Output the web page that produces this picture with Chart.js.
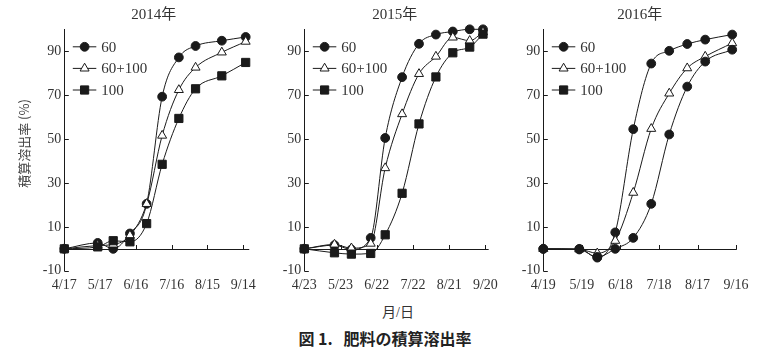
<!DOCTYPE html>
<html><head><meta charset="utf-8">
<script src="https://cdn.jsdelivr.net/npm/chart.js@4.4.1/dist/chart.umd.min.js"></script>
<style>
html,body{margin:0;padding:0;background:#fff;width:763px;height:355px;overflow:hidden;}
.wrap{position:absolute;top:0;height:300px;}
#xlab{position:absolute;left:348px;width:100px;top:301px;text-align:center;font:14px 'Liberation Serif','Noto Sans CJK JP',serif;color:#333;}
#cap{position:absolute;left:235px;width:300px;top:326px;text-align:center;font:bold 16px 'Noto Sans CJK JP',sans-serif;color:#222;white-space:pre;}
</style></head>
<body>
<div class="wrap" style="left:0;width:262px"><canvas id="c1" width="262" height="300"></canvas></div>
<div class="wrap" style="left:262px;width:242px"><canvas id="c2" width="242" height="300"></canvas></div>
<div class="wrap" style="left:504px;width:259px"><canvas id="c3" width="259" height="300"></canvas></div>
<div id="xlab">月/日</div>
<div id="cap">図 1.   肥料の積算溶出率</div>
<script>
// ---- data ----
const seriesLabels = ['60', '60+100', '100'];
const yTickValues = [-10, 10, 30, 50, 70, 90];
const xTickDays = [0, 30, 60, 90, 120, 150];
const yAxisTitle = '積算溶出率 (%)';

const title2014 = '2014年';
const xLabels2014 = ['4/17', '5/17', '6/16', '7/16', '8/15', '9/14'];
const days2014 = [0, 28, 41, 55, 69, 82, 96, 110, 132, 152];
const v60_2014 = [0, 2.7, 0, 7.0, 20.5, 69.3, 87.2, 92.4, 94.8, 96.5];
const v60100_2014 = [0, 1.5, 2.0, 6.1, 20.5, 51.6, 72.4, 82.6, 89.5, 94.4];
const v100_2014 = [0, 0.9, 3.7, 3.2, 11.5, 38.5, 59.4, 72.9, 78.8, 84.9];

const title2015 = '2015年';
const xLabels2015 = ['4/23', '5/23', '6/22', '7/22', '8/21', '9/20'];
const days2015 = [0, 25, 39, 55, 67, 81, 95, 109, 123, 137, 148];
const v60_2015 = [0, 1.7, -0.3, 5.0, 50.5, 78.2, 93.4, 97.6, 99.0, 100, 100];
const v60100_2015 = [0, 2.0, 0.3, 2.4, 36.8, 61.4, 79.7, 87.6, 96.3, 94.8, 98.7];
const v100_2015 = [0, -1.8, -2.4, -2.1, 6.4, 25.3, 56.9, 78.3, 89.3, 91.9, 97.8];

const title2016 = '2016年';
const xLabels2016 = ['4/19', '5/19', '6/18', '7/18', '8/17', '9/16'];
const days2016 = [0, 28, 42, 56, 70, 84, 98, 112, 126, 147];
const v60_2016 = [0, 0, -4.0, 7.5, 54.5, 84.4, 90.2, 93.3, 95.3, 97.6];
const v60100_2016 = [0, -0.2, -2.0, 3.7, 25.6, 54.7, 70.8, 82.3, 87.6, 93.7];
const v100_2016 = [0, -0.3, -3.7, 0, 5.0, 20.5, 52.1, 73.9, 85.3, 90.7];

// ---- styling ----
const INK = '#1a1a1a';
const SERIF = "'Liberation Serif','Noto Sans CJK JP',serif";
const STYLES = [
  {pointStyle: 'circle', radius: 4.4, fill: INK},
  {pointStyle: 'triangle', radius: 5.2, fill: '#ffffff'},
  {pointStyle: 'rect', radius: 5.8, fill: INK}
];

function pts(days, vals) { return days.map((d, i) => ({x: d, y: vals[i]})); }

function makeDataset(i, days, vals, overrideStyle) {
  const st = STYLES[i];
  const ps = overrideStyle !== undefined ? STYLES[overrideStyle] : st;
  return {
    label: seriesLabels[i],
    data: pts(days, vals),
    borderColor: INK,
    borderWidth: 1,
    backgroundColor: ps.fill,
    pointStyle: ps.pointStyle,
    pointRadius: ps.radius,
    pointHoverRadius: ps.radius,
    pointBorderColor: INK,
    pointBorderWidth: 1,
    pointBackgroundColor: ps.fill,
    cubicInterpolationMode: 'monotone',
    clip: false,
    legendStyle: st,
    order: 3 - i
  };
}

const decoPlugin = {
  id: 'deco',
  beforeDatasetsDraw(chart) {
    const {ctx, scales: {x, y}, chartArea} = chart;
    const y0 = y.getPixelForValue(0);
    ctx.save();
    ctx.strokeStyle = INK;
    ctx.lineWidth = 1;
    ctx.beginPath();
    ctx.moveTo(chartArea.left, Math.round(y0) + 0.5);
    ctx.lineTo(x.getPixelForValue(x.max), Math.round(y0) + 0.5);
    x.ticks.forEach(t => {
      const px = Math.round(x.getPixelForValue(t.value)) + 0.5;
      if (t.value === 0) return;
      ctx.moveTo(px, Math.round(y0) + 0.5);
      ctx.lineTo(px, Math.round(y0) - 4);
    });
    y.ticks.forEach(t => {
      const py = Math.round(y.getPixelForValue(t.value)) + 0.5;
      ctx.moveTo(chartArea.left, py);
      ctx.lineTo(chartArea.left + 4.5, py);
    });
    ctx.stroke();
    ctx.restore();
  },
  afterDraw(chart) {
    const {ctx, scales: {x, y}, chartArea} = chart;
    const o = chart.options.plugins.deco;
    ctx.save();
    // panel title
    ctx.fillStyle = '#333';
    ctx.font = '15px ' + SERIF;
    ctx.textAlign = 'center';
    ctx.textBaseline = 'middle';
    ctx.fillText(o.title, x.getPixelForValue(75), 15);
    // y-axis title (rotated), centred on the 45% level like the original
    if (o.yTitle) {
      ctx.save();
      ctx.translate(24, y.getPixelForValue(48));
      ctx.rotate(-Math.PI / 2);
      ctx.font = "13px 'Noto Sans CJK JP',sans-serif";
      ctx.fillStyle = '#444';
      ctx.fillText(o.yTitle, 0, 0);
      ctx.restore();
    }
    // legend inside plot
    ctx.font = '15px ' + SERIF;
    ctx.textAlign = 'left';
    chart.data.datasets.forEach((ds, i) => {
      const ly = chartArea.top + 17.5 + i * 21.6;
      const lx = chartArea.left;
      ctx.strokeStyle = INK;
      ctx.lineWidth = 1;
      ctx.beginPath();
      ctx.moveTo(lx + 8.5, ly);
      ctx.lineTo(lx + 32, ly);
      ctx.stroke();
      const st = ds.legendStyle;
      ctx.fillStyle = st.fill;
      Chart.helpers.drawPoint(ctx, {pointStyle: st.pointStyle, radius: st.radius, borderWidth: 1, rotation: 0}, lx + 20.3, ly);
      ctx.fillStyle = '#333';
      ctx.fillText(ds.label, lx + 37, ly + 1);
    });
    ctx.restore();
  }
};

function makeChart(id, cfg) {
  return new Chart(document.getElementById(id), {
    type: 'line',
    data: {datasets: cfg.datasets},
    plugins: [decoPlugin],
    options: {
      responsive: false,
      animation: false,
      events: [],
      layout: {padding: {left: 0, right: cfg.padRight, top: 29.3, bottom: 0}},
      plugins: {
        legend: {display: false},
        tooltip: {enabled: false},
        title: {display: false},
        deco: {title: cfg.title, yTitle: cfg.yTitle}
      },
      scales: {
        x: {
          type: 'linear',
          min: 0,
          max: cfg.xmax,
          afterBuildTicks: s => { s.ticks = xTickDays.map(v => ({value: v})); },
          afterFit: s => { s.height = 29.2; },
          grid: {display: true, drawOnChartArea: false, drawTicks: false},
          border: {display: false},
          ticks: {
            padding: 6,
            color: '#333',
            font: {family: SERIF, size: 14},
            maxRotation: 0,
            autoSkip: false,
            callback: (v) => cfg.xLabels[xTickDays.indexOf(v)]
          }
        },
        y: {
          type: 'linear',
          min: -10,
          max: 100,
          afterBuildTicks: s => { s.ticks = yTickValues.map(v => ({value: v})); },
          afterFit: s => { s.width = cfg.yWidth; },
          grid: {display: true, drawOnChartArea: false, drawTicks: false},
          border: {display: true, color: INK, width: 1},
          ticks: {
            padding: 3,
            color: '#333',
            font: {family: SERIF, size: 14},
            callback: v => String(v)
          }
        }
      }
    }
  });
}

makeChart('c1', {
  title: title2014, xLabels: xLabels2014, xmax: 155, yWidth: 64.3, padRight: 8, yTitle: yAxisTitle,
  datasets: [makeDataset(0, days2014, v60_2014), makeDataset(1, days2014, v60100_2014), makeDataset(2, days2014, v100_2014)]
});
makeChart('c2', {
  title: title2015, xLabels: xLabels2015, xmax: 152.7, yWidth: 42.3, padRight: 8.3,
  datasets: [makeDataset(0, days2015, v60_2015), makeDataset(1, days2015, v60100_2015), makeDataset(2, days2015, v100_2015)]
});
makeChart('c3', {
  title: title2016, xLabels: xLabels2016, xmax: 150.5, yWidth: 39.3, padRight: 26.3,
  datasets: [makeDataset(0, days2016, v60_2016), makeDataset(1, days2016, v60100_2016), makeDataset(2, days2016, v100_2016, 0)]
});
</script>
</body></html>
